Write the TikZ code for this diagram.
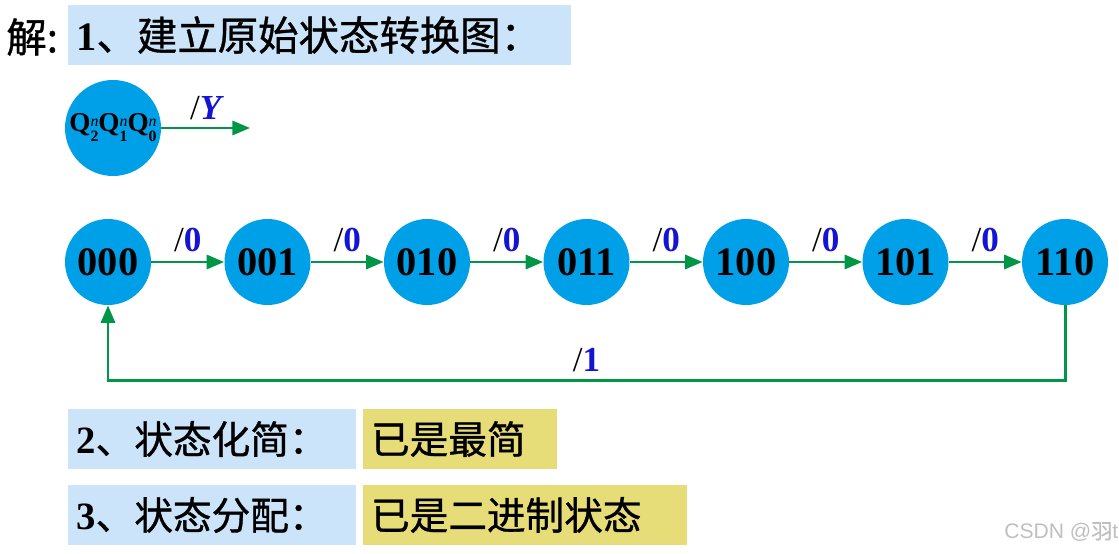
\documentclass[tikz,border=0pt]{standalone}
\usepackage{fontspec}
\setmainfont{Liberation Serif}
\newfontfamily\cjkfont{Noto Sans CJK SC}[FakeBold=0.9]
\newfontfamily\marksans{Liberation Sans}
\usetikzlibrary{arrows.meta,positioning}

\definecolor{stateblue}{RGB}{0,160,233}
\definecolor{linegreen}{RGB}{0,150,70}
\definecolor{labelblue}{RGB}{20,20,210}
\definecolor{boxblue}{RGB}{204,228,250}
\definecolor{boxyellow}{RGB}{230,220,120}

% Q_k^n in the key circle
\newcommand{\qn}[1]{\textbf{Q}\raisebox{-0.8ex}{\fontsize{9}{10}\selectfont\shortstack[l]{\itshape n\\\bfseries #1}}}

\begin{document}
\begin{tikzpicture}[x=0.02cm, y=-0.02cm,
    state/.style={circle, fill=stateblue, minimum size=1.72cm, inner sep=0pt,
      font=\bfseries\fontsize{23}{23}\selectfont},
    trans/.style={draw=linegreen, line width=1.7pt, -{Triangle[length=10pt,width=8pt]}},
    lbl/.style={font=\fontsize{20}{20}\selectfont, inner sep=1pt},
    bluebox/.style={fill=boxblue, anchor=west, minimum height=1.22cm, inner xsep=0.16cm,
      align=left, font=\cjkfont\fontsize{22}{22}\selectfont},
    yellowbox/.style={bluebox, fill=boxyellow}]

  \useasboundingbox (0,0) rectangle (1119,554);

  % heading
  \node[anchor=west, inner sep=0pt, font=\cjkfont\fontsize{23}{23}\selectfont] (jie) at (6,37) {解:};
  \node[bluebox, text width=9.74cm, font=\cjkfont\fontsize{23}{23}\selectfont] (step1) at (68,35)
    {{\rmfamily\bfseries 1}、建立原始状态转换图：};

  % key
  \node[state, minimum size=1.92cm, font=\fontsize{15.5}{15.5}\selectfont] (key) at (113,128)
    {\qn{2}\qn{1}\qn{0}};
  \coordinate (keyout) at (250,128);
  \draw[trans] (key) -- (keyout) node[midway, above=3pt, lbl] {/\textcolor{labelblue}{\bfseries\itshape Y}};

  % states
  \foreach \name [count=\i from 0] in {000,001,010,011,100,101,110}
    \node[state] (s\i) at (108+159.5*\i, 262) {\name};

  \foreach \i [evaluate=\i as \j using int(\i+1)] in {0,...,5}
    \draw[trans] (s\i) -- (s\j) node[midway, above=4pt, lbl] {/\textcolor{labelblue}{\bfseries 0}};

  \draw[trans] (s6.south) -- ++(0,75) -| (s0.south)
    node[pos=0.25, above=3pt, lbl] {/\textcolor{labelblue}{\bfseries 1}};

  % steps 2 and 3
  \node[bluebox, text width=5.44cm] (step2) at (68,439) {{\rmfamily\bfseries 2}、状态化简：};
  \node[yellowbox, text width=3.56cm, right=0.12cm of step2] (res2) {已是最简};
  \node[bluebox, text width=5.44cm] (step3) at (68,515) {{\rmfamily\bfseries 3}、状态分配：};
  \node[yellowbox, text width=6.16cm, right=0.12cm of step3] (res3) {已是二进制状态};

  \node[anchor=west, inner sep=0pt, text=black!25, font=\marksans\fontsize{12}{12}\selectfont] (mark) at (1004,532)
    {CSDN @{\cjkfont 羽}t};
\end{tikzpicture}
\end{document}
